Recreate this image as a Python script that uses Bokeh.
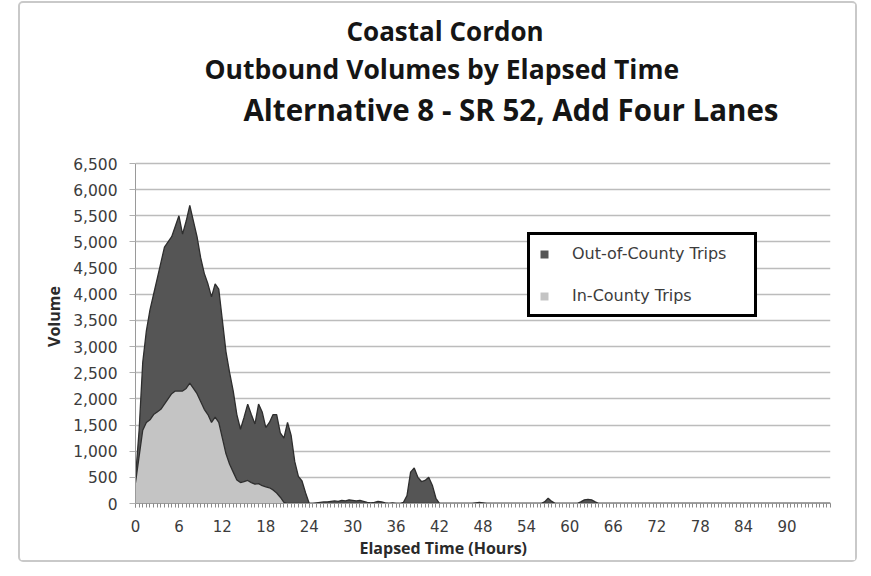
from bokeh.plotting import figure
from bokeh.models import (ColumnDataSource, Legend, LegendItem, Title, FixedTicker,
                          NumeralTickFormatter, Range1d)
from bokeh.transform import stack
from bokeh.embed import file_html
from bokeh.resources import INLINE

# Elapsed time in half-hour steps (hours)
hours = [i * 0.5 for i in range(193)]

# In-County trips (lower, light series)
in_county = [
    400, 900, 1400, 1550, 1600, 1700, 1750, 1800, 1900, 2000,
    2100, 2150, 2150, 2150, 2200, 2300, 2200, 2100, 1950, 1800,
    1700, 1550, 1650, 1550, 1250, 950, 750, 600, 450, 400,
    420, 440, 400, 370, 380, 340, 320, 300, 260, 200,
    120, 20, 0, 0, 0, 0, 0, 0, 0, 0,
    0, 0, 0, 0, 0, 0, 0, 0, 0, 0,
    0, 0, 0, 0, 0, 0, 0, 0, 0, 0,
    0, 0, 0, 0, 0, 0, 0, 0, 0, 0,
    0, 0, 0, 0, 0, 0, 0, 0, 0, 0,
    0, 0, 0, 0, 0, 0, 0, 0, 0, 0,
    0, 0, 0, 0, 0, 0, 0, 0, 0, 0,
    0, 0, 0, 0, 0, 0, 0, 0, 0, 0,
    0, 0, 0, 0, 0, 0, 0, 0, 0, 0,
    0, 0, 0, 0, 0, 0, 0, 0, 0, 0,
    0, 0, 0, 0, 0, 0, 0, 0, 0, 0,
    0, 0, 0, 0, 0, 0, 0, 0, 0, 0,
    0, 0, 0, 0, 0, 0, 0, 0, 0, 0,
    0, 0, 0, 0, 0, 0, 0, 0, 0, 0,
    0, 0, 0, 0, 0, 0, 0, 0, 0, 0,
    0, 0, 0,
]

# Out-of-County trips (stacked on top, dark series)
out_county = [
    100, 500, 1300, 1750, 2100, 2300, 2550, 2800, 3000, 3000,
    3000, 3150, 3350, 3000, 3200, 3400, 3200, 3000, 2750, 2600,
    2500, 2400, 2550, 2550, 2250, 1950, 1750, 1550, 1250, 1020,
    1230, 1460, 1300, 1150, 1520, 1410, 1130, 1250, 1440, 1500,
    1230, 1230, 1550, 1300, 800, 520, 430, 200, 0, 0,
    10, 20, 30, 30, 40, 50, 40, 60, 50, 70,
    60, 50, 60, 40, 20, 10, 20, 40, 30, 10,
    0, 10, 0, 0, 20, 150, 600, 680, 500, 420,
    440, 500, 350, 100, 0, 0, 0, 0, 0, 0,
    0, 0, 0, 0, 10, 20, 10, 0, 0, 0,
    0, 0, 0, 0, 0, 0, 0, 0, 0, 0,
    0, 0, 0, 30, 100, 40, 0, 0, 0, 0,
    0, 0, 0, 30, 70, 80, 70, 30, 0, 0,
    0, 0, 0, 0, 0, 0, 0, 0, 0, 0,
    0, 0, 0, 0, 0, 0, 0, 0, 0, 0,
    0, 0, 0, 0, 0, 0, 0, 0, 0, 0,
    0, 0, 0, 0, 0, 0, 0, 0, 0, 0,
    0, 0, 0, 0, 0, 0, 0, 0, 0, 0,
    0, 0, 0, 0, 0, 0, 0, 0, 0, 0,
    0, 0, 0,
]

x_ticks = [0, 6, 12, 18, 24, 30, 36, 42, 48, 54, 60, 66, 72, 78, 84, 90]
y_ticks = [0, 500, 1000, 1500, 2000, 2500, 3000, 3500, 4000, 4500, 5000, 5500, 6000, 6500]

title_lines = ["Coastal Cordon",
               "Outbound Volumes by Elapsed Time",
               "Alternative 8 - SR 52, Add Four Lanes"]
series_labels = ["Out-of-County Trips", "In-County Trips"]
x_label = "Elapsed Time (Hours)"
y_label = "Volume"

TFONT = "Open Sans"
LFONT = "DejaVu Sans"
TXT = "#3c3c3c"

src = ColumnDataSource(dict(hours=hours, in_county=in_county, out_county=out_county))

# the frame reaches a little above the 6,500 gridline; the axis itself stops at 6,500
p = figure(width=835, height=557, output_backend="svg", toolbar_location=None,
           x_range=Range1d(0, 96), y_range=Range1d(0, 7150),
           min_border_left=115, min_border_right=25, min_border_top=126,
           min_border_bottom=57, margin=(3, 0, 0, 20),
           styles={"outline": "2px solid #c9c9c9", "border-radius": "3px"})
p.outline_line_color = None
p.background_fill_color = "white"
p.border_fill_color = "white"

# titles: p.title is outermost, later "above" titles stack toward the frame
p.title.text = title_lines[0]
p.title.text_font = TFONT
p.title.text_font_size = "26px"
p.title.text_font_style = "bold"
p.title.text_color = "#151515"
p.title.align = "left"
p.title.offset = 211
p.title.standoff = 0

t3 = Title(text=title_lines[2], text_font=TFONT, text_font_size="29.5px",
           text_font_style="bold", text_color="#151515", align="left", offset=108,
           standoff=0)
t2 = Title(text=title_lines[1], text_font=TFONT, text_font_size="26.5px",
           text_font_style="bold", text_color="#151515", align="left", offset=69,
           standoff=0)
p.add_layout(t3, "above")
p.add_layout(t2, "above")

areas = p.varea_stack(stackers=["in_county", "out_county"], x="hours",
                      color=["#c4c4c4", "#555555"], source=src)
p.line(x="hours", y=stack("in_county"), line_color="#2e2e2e", line_width=1.3, source=src)
p.line(x="hours", y=stack("in_county", "out_county"), line_color="#2e2e2e",
       line_width=1.3, source=src)

# axes
p.xaxis.ticker = FixedTicker(ticks=x_ticks, minor_ticks=hours)
p.xaxis.major_tick_in = 0
p.xaxis.major_tick_out = 4
p.xaxis.minor_tick_in = 0
p.xaxis.minor_tick_out = 4
p.xaxis.axis_line_color = "#9a9a9a"
p.xaxis.major_tick_line_color = "#8a8a8a"
p.xaxis.minor_tick_line_color = "#8a8a8a"
p.xaxis.major_label_text_font = LFONT
p.xaxis.major_label_text_font_size = "15px"
p.xaxis.major_label_text_color = TXT
p.xaxis.major_label_standoff = 12

p.yaxis.bounds = (0, 6500)
p.yaxis.ticker = FixedTicker(ticks=y_ticks)
p.yaxis.formatter = NumeralTickFormatter(format="0,0")
p.yaxis.major_tick_in = 0
p.yaxis.major_tick_out = 6
p.yaxis.minor_tick_line_color = None
p.yaxis.axis_line_color = "#9a9a9a"
p.yaxis.major_tick_line_color = "#b0b0b0"
p.yaxis.major_label_text_font = LFONT
p.yaxis.major_label_text_font_size = "15.5px"
p.yaxis.major_label_text_color = TXT
p.yaxis.major_label_standoff = 12
p.yaxis.axis_label = y_label
p.yaxis.axis_label_text_font = TFONT
p.yaxis.axis_label_text_font_size = "16px"
p.yaxis.axis_label_text_font_style = "bold"
p.yaxis.axis_label_text_color = "#2a2a2a"
p.yaxis.axis_label_standoff = 5

xlabel = Title(text=x_label, text_font=TFONT, text_font_size="16px",
               text_font_style="bold", text_color="#2a2a2a", align="left", offset=224,
               standoff=0)
p.add_layout(xlabel, "below")

p.xgrid.visible = False
p.ygrid.grid_line_color = "#bcbcbc"
p.ygrid.grid_line_width = 1.5

legend = Legend(items=[LegendItem(label=series_labels[0], renderers=[areas[1]]),
                       LegendItem(label=series_labels[1], renderers=[areas[0]])],
                location=(392, 186), border_line_color="black", border_line_width=3,
                border_line_alpha=1.0,
                padding=9, spacing=23, glyph_width=10, glyph_height=10,
                label_height=16, label_width=173, label_standoff=23,
                label_text_font=LFONT, label_text_font_size="16px",
                label_text_color=TXT, background_fill_color="white",
                background_fill_alpha=1.0)
p.add_layout(legend)

open("out.html", "w").write(file_html(p, INLINE))
